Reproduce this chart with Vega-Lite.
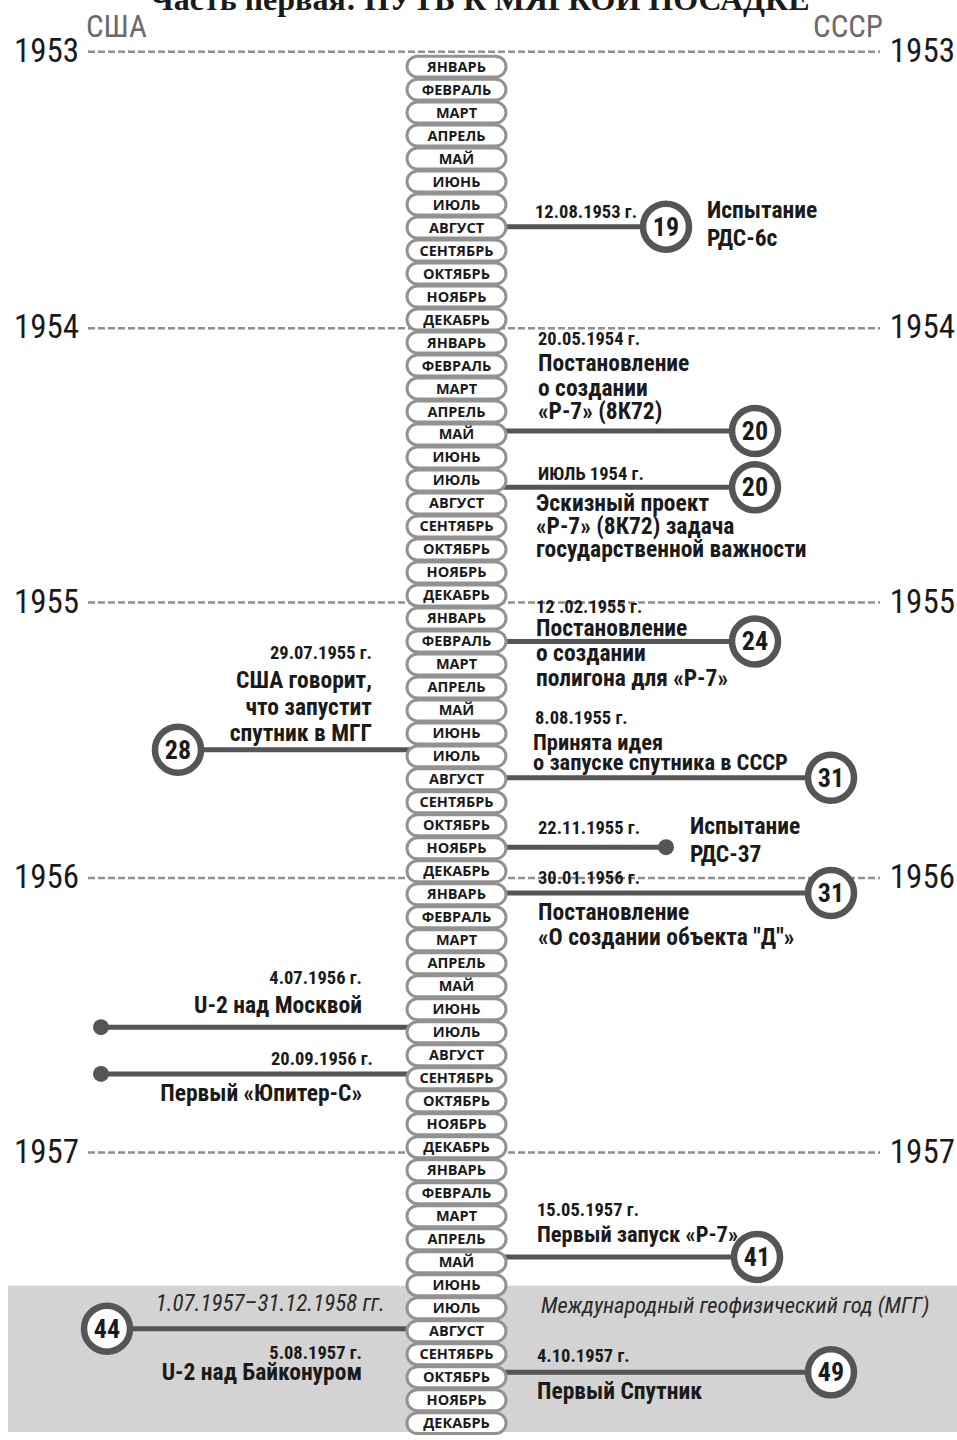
{
  "$schema": "https://vega.github.io/schema/vega-lite/v6.json",
  "width": 957,
  "height": 1440,
  "autosize": {"type": "fit", "contains": "padding"},
  "padding": 0,
  "background": "white",
  "config": {"view": {"stroke": null}},
  "datasets": {
    "months": [
      {"i": 0, "m": "ЯНВАРЬ"}, {"i": 1, "m": "ФЕВРАЛЬ"}, {"i": 2, "m": "МАРТ"}, {"i": 3, "m": "АПРЕЛЬ"}, {"i": 4, "m": "МАЙ"}, {"i": 5, "m": "ИЮНЬ"},
      {"i": 6, "m": "ИЮЛЬ"}, {"i": 7, "m": "АВГУСТ"}, {"i": 8, "m": "СЕНТЯБРЬ"}, {"i": 9, "m": "ОКТЯБРЬ"}, {"i": 10, "m": "НОЯБРЬ"}, {"i": 11, "m": "ДЕКАБРЬ"},
      {"i": 12, "m": "ЯНВАРЬ"}, {"i": 13, "m": "ФЕВРАЛЬ"}, {"i": 14, "m": "МАРТ"}, {"i": 15, "m": "АПРЕЛЬ"}, {"i": 16, "m": "МАЙ"}, {"i": 17, "m": "ИЮНЬ"},
      {"i": 18, "m": "ИЮЛЬ"}, {"i": 19, "m": "АВГУСТ"}, {"i": 20, "m": "СЕНТЯБРЬ"}, {"i": 21, "m": "ОКТЯБРЬ"}, {"i": 22, "m": "НОЯБРЬ"}, {"i": 23, "m": "ДЕКАБРЬ"},
      {"i": 24, "m": "ЯНВАРЬ"}, {"i": 25, "m": "ФЕВРАЛЬ"}, {"i": 26, "m": "МАРТ"}, {"i": 27, "m": "АПРЕЛЬ"}, {"i": 28, "m": "МАЙ"}, {"i": 29, "m": "ИЮНЬ"},
      {"i": 30, "m": "ИЮЛЬ"}, {"i": 31, "m": "АВГУСТ"}, {"i": 32, "m": "СЕНТЯБРЬ"}, {"i": 33, "m": "ОКТЯБРЬ"}, {"i": 34, "m": "НОЯБРЬ"}, {"i": 35, "m": "ДЕКАБРЬ"},
      {"i": 36, "m": "ЯНВАРЬ"}, {"i": 37, "m": "ФЕВРАЛЬ"}, {"i": 38, "m": "МАРТ"}, {"i": 39, "m": "АПРЕЛЬ"}, {"i": 40, "m": "МАЙ"}, {"i": 41, "m": "ИЮНЬ"},
      {"i": 42, "m": "ИЮЛЬ"}, {"i": 43, "m": "АВГУСТ"}, {"i": 44, "m": "СЕНТЯБРЬ"}, {"i": 45, "m": "ОКТЯБРЬ"}, {"i": 46, "m": "НОЯБРЬ"}, {"i": 47, "m": "ДЕКАБРЬ"},
      {"i": 48, "m": "ЯНВАРЬ"}, {"i": 49, "m": "ФЕВРАЛЬ"}, {"i": 50, "m": "МАРТ"}, {"i": 51, "m": "АПРЕЛЬ"}, {"i": 52, "m": "МАЙ"}, {"i": 53, "m": "ИЮНЬ"},
      {"i": 54, "m": "ИЮЛЬ"}, {"i": 55, "m": "АВГУСТ"}, {"i": 56, "m": "СЕНТЯБРЬ"}, {"i": 57, "m": "ОКТЯБРЬ"}, {"i": 58, "m": "НОЯБРЬ"}, {"i": 59, "m": "ДЕКАБРЬ"}
    ],
    "years": [
      {"year": "1953", "y": -0.65, "x0": 88, "x1": 880},
      {"year": "1954", "y": 11.38, "x0": 88, "x1": 880},
      {"year": "1955", "y": 23.31, "x0": 88, "x1": 880},
      {"year": "1956", "y": 35.29, "x0": 88, "x1": 880},
      {"year": "1957", "y": 47.23, "x0": 88, "x1": 880}
    ],
    "band": [{"from": 53.03, "to": 59.39, "x0": 8, "x1": 957}],
    "events": [
      {"y": 6.96, "x0": 456, "x1": 666, "end": "circle", "num": "19"},
      {"y": 15.85, "x0": 456, "x1": 755, "end": "circle", "num": "20"},
      {"y": 18.3, "x0": 456, "x1": 755, "end": "circle", "num": "20"},
      {"y": 25.0, "x0": 456, "x1": 755, "end": "circle", "num": "24"},
      {"y": 30.93, "x0": 456, "x1": 831, "end": "circle", "num": "31"},
      {"y": 33.95, "x0": 456, "x1": 666, "end": "dot", "num": ""},
      {"y": 35.94, "x0": 456, "x1": 831, "end": "circle", "num": "31"},
      {"y": 51.77, "x0": 456, "x1": 757, "end": "circle", "num": "41"},
      {"y": 56.79, "x0": 456, "x1": 831, "end": "circle", "num": "49"},
      {"y": 29.71, "x0": 456, "x1": 178, "end": "circle", "num": "28"},
      {"y": 41.78, "x0": 456, "x1": 101, "end": "dot", "num": ""},
      {"y": 43.81, "x0": 456, "x1": 101, "end": "dot", "num": ""},
      {"y": 54.89, "x0": 456, "x1": 107, "end": "circle", "num": "44"}
    ],
    "labels": [
      {"t": "12.08.1953 г.", "y": 6.31, "x": 535, "k": "dR"},
      {"t": "20.05.1954 г.", "y": 11.85, "x": 538, "k": "dR"},
      {"t": "ИЮЛЬ 1954 г.", "y": 17.73, "x": 538, "k": "dR"},
      {"t": "12 .02.1955 г.", "y": 23.49, "x": 536, "k": "dR"},
      {"t": "8.08.1955 г.", "y": 28.33, "x": 535, "k": "dR"},
      {"t": "22.11.1955 г.", "y": 33.13, "x": 538, "k": "dR"},
      {"t": "30.01.1956 г.", "y": 35.29, "x": 538, "k": "dR"},
      {"t": "15.05.1957 г.", "y": 49.74, "x": 537, "k": "dR"},
      {"t": "4.10.1957 г.", "y": 56.1, "x": 537, "k": "dR"},
      {"t": "Испытание", "y": 6.27, "x": 707, "k": "tR"},
      {"t": "РДС-6с", "y": 7.48, "x": 707, "k": "tR"},
      {"t": "Постановление", "y": 12.93, "x": 538, "k": "tR"},
      {"t": "о создании", "y": 14.01, "x": 538, "k": "tR"},
      {"t": "«Р-7» (8К72)", "y": 15.01, "x": 538, "k": "tR"},
      {"t": "Эскизный проект", "y": 19.03, "x": 536, "k": "tR"},
      {"t": "«Р-7» (8К72) задача", "y": 20.03, "x": 536, "k": "tR"},
      {"t": "государственной важности", "y": 21.02, "x": 536, "k": "tR"},
      {"t": "Постановление", "y": 24.44, "x": 536, "k": "tR"},
      {"t": "о создании", "y": 25.56, "x": 536, "k": "tR"},
      {"t": "полигона для «Р-7»", "y": 26.64, "x": 536, "k": "tR"},
      {"t": "Принята идея", "y": 29.42, "x": 533, "k": "tS"},
      {"t": "о запуске спутника в СССР", "y": 30.28, "x": 533, "k": "tS"},
      {"t": "Испытание", "y": 33.09, "x": 690, "k": "tR"},
      {"t": "РДС-37", "y": 34.3, "x": 690, "k": "tR"},
      {"t": "Постановление", "y": 36.81, "x": 538, "k": "tR"},
      {"t": "«О создании объекта \"Д\"»", "y": 37.89, "x": 538, "k": "tR"},
      {"t": "Первый запуск «Р-7»", "y": 50.82, "x": 537, "k": "tS"},
      {"t": "Первый Спутник", "y": 57.66, "x": 537, "k": "tR"},
      {"t": "29.07.1955 г.", "y": 25.52, "x": 372, "k": "dL"},
      {"t": "4.07.1956 г.", "y": 39.62, "x": 362, "k": "dL"},
      {"t": "20.09.1956 г.", "y": 43.17, "x": 373, "k": "dL"},
      {"t": "5.08.1957 г.", "y": 55.93, "x": 362, "k": "dL"},
      {"t": "США говорит,", "y": 26.73, "x": 372, "k": "tL"},
      {"t": "что запустит", "y": 27.9, "x": 372, "k": "tL"},
      {"t": "спутник в МГГ", "y": 29.02, "x": 372, "k": "tL"},
      {"t": "U-2 над Москвой", "y": 40.87, "x": 362, "k": "tL"},
      {"t": "Первый «Юпитер-С»", "y": 44.68, "x": 362, "k": "tL"},
      {"t": "U-2 над Байконуром", "y": 56.84, "x": 362, "k": "tL"},
      {"t": "1.07.1957–31.12.1958 гг.", "y": 53.81, "x": 385, "k": "iL"},
      {"t": "Международный геофизический год (МГГ)", "y": 53.89, "x": 541, "k": "iR"}
    ],
    "heads": [
      {"t": "США", "y": -1.69, "x": 86, "side": "L"},
      {"t": "СССР", "y": -1.69, "x": 883, "side": "R"}
    ],
    "headline": [{"t": "Часть первая: ПУТЬ К МЯГКОЙ ПОСАДКЕ", "y": -2.45, "x": 480}]
  },
  "layer": [
    {
      "data": {"name": "band"},
      "mark": {"type": "rect", "color": "#d3d3d3"},
      "encoding": {
        "x": {"field": "x0", "type": "quantitative", "scale": {"domain": [0, 957], "zero": false, "nice": false}, "axis": null},
        "x2": {"field": "x1"},
        "y": {"field": "from", "type": "quantitative", "scale": {"domain": [-2.898, 59.386], "reverse": true, "zero": false, "nice": false}, "axis": null},
        "y2": {"field": "to"}
      }
    },
    {
      "data": {"name": "years"},
      "mark": {"type": "rule", "color": "#8f8f8f", "strokeWidth": 2.5, "strokeDash": [7, 3]},
      "encoding": {
        "x": {"field": "x0", "type": "quantitative", "axis": null},
        "x2": {"field": "x1"},
        "y": {"field": "y", "type": "quantitative", "axis": null}
      }
    },
    {
      "data": {"name": "years"},
      "mark": {"type": "text", "align": "left", "baseline": "middle", "font": "'Roboto Condensed', 'Liberation Sans Narrow', 'DejaVu Sans Condensed', sans-serif", "fontSize": 33, "color": "#1a1a1a", "clip": true},
      "encoding": {
        "x": {"datum": 14, "type": "quantitative", "axis": null},
        "y": {"field": "y", "type": "quantitative", "axis": null},
        "text": {"field": "year", "type": "nominal"}
      }
    },
    {
      "data": {"name": "years"},
      "mark": {"type": "text", "align": "right", "baseline": "middle", "font": "'Roboto Condensed', 'Liberation Sans Narrow', 'DejaVu Sans Condensed', sans-serif", "fontSize": 33, "color": "#1a1a1a", "clip": true},
      "encoding": {
        "x": {"datum": 955, "type": "quantitative", "axis": null},
        "y": {"field": "y", "type": "quantitative", "axis": null},
        "text": {"field": "year", "type": "nominal"}
      }
    },
    {
      "data": {"name": "heads"},
      "transform": [{"filter": "datum.side === 'L'"}],
      "mark": {"type": "text", "align": "left", "baseline": "middle", "font": "'Roboto Condensed', 'Liberation Sans Narrow', 'DejaVu Sans Condensed', sans-serif", "fontSize": 31, "color": "#6a6a6a", "clip": true},
      "encoding": {
        "x": {"field": "x", "type": "quantitative", "axis": null},
        "y": {"field": "y", "type": "quantitative", "axis": null},
        "text": {"field": "t", "type": "nominal"}
      }
    },
    {
      "data": {"name": "heads"},
      "transform": [{"filter": "datum.side === 'R'"}],
      "mark": {"type": "text", "align": "right", "baseline": "middle", "font": "'Roboto Condensed', 'Liberation Sans Narrow', 'DejaVu Sans Condensed', sans-serif", "fontSize": 31, "color": "#6a6a6a", "clip": true},
      "encoding": {
        "x": {"field": "x", "type": "quantitative", "axis": null},
        "y": {"field": "y", "type": "quantitative", "axis": null},
        "text": {"field": "t", "type": "nominal"}
      }
    },
    {
      "data": {"name": "events"},
      "mark": {"type": "rule", "color": "#555555", "strokeWidth": 5},
      "encoding": {
        "x": {"field": "x0", "type": "quantitative", "axis": null},
        "x2": {"field": "x1"},
        "y": {"field": "y", "type": "quantitative", "axis": null}
      }
    },
    {
      "data": {"name": "months"},
      "mark": {"type": "point", "shape": "M -0.788 -0.212 L 0.788 -0.212 A 0.212 0.212 0 0 1 0.788 0.212 L -0.788 0.212 A 0.212 0.212 0 0 1 -0.788 -0.212 Z", "size": 9801, "filled": true, "fill": "white", "stroke": "#929292", "strokeWidth": 3, "opacity": 1},
      "encoding": {
        "x": {"datum": 456.5, "type": "quantitative", "axis": null},
        "y": {"field": "i", "type": "quantitative", "axis": null}
      }
    },
    {
      "data": {"name": "months"},
      "mark": {"type": "text", "align": "center", "baseline": "middle", "font": "'Open Sans', sans-serif", "fontWeight": "bold", "fontSize": 14.5, "color": "#1a1a1a", "dy": 1},
      "encoding": {
        "x": {"datum": 456.5, "type": "quantitative", "axis": null},
        "y": {"field": "i", "type": "quantitative", "axis": null},
        "text": {"field": "m", "type": "nominal"}
      }
    },
    {
      "data": {"name": "events"},
      "transform": [{"filter": "datum.end === 'circle'"}],
      "mark": {"type": "point", "shape": "circle", "filled": true, "fill": "white", "stroke": "#555555", "strokeWidth": 6.5, "size": 2116, "opacity": 1},
      "encoding": {
        "x": {"field": "x1", "type": "quantitative", "axis": null},
        "y": {"field": "y", "type": "quantitative", "axis": null}
      }
    },
    {
      "data": {"name": "events"},
      "transform": [{"filter": "datum.end === 'dot'"}],
      "mark": {"type": "point", "shape": "circle", "filled": true, "color": "#555555", "size": 256, "opacity": 1},
      "encoding": {
        "x": {"field": "x1", "type": "quantitative", "axis": null},
        "y": {"field": "y", "type": "quantitative", "axis": null}
      }
    },
    {
      "data": {"name": "events"},
      "transform": [{"filter": "datum.end === 'circle'"}],
      "mark": {"type": "text", "align": "center", "baseline": "middle", "font": "'Roboto Condensed', 'Liberation Sans Narrow', 'DejaVu Sans Condensed', sans-serif", "fontWeight": "bold", "fontSize": 26, "color": "#1a1a1a", "dy": 1},
      "encoding": {
        "x": {"field": "x1", "type": "quantitative", "axis": null},
        "y": {"field": "y", "type": "quantitative", "axis": null},
        "text": {"field": "num", "type": "nominal"}
      }
    },
    {
      "data": {"name": "labels"},
      "transform": [{"filter": "datum.k === 'dR'"}],
      "mark": {"type": "text", "align": "left", "baseline": "middle", "font": "'Roboto Condensed', 'Liberation Sans Narrow', 'DejaVu Sans Condensed', sans-serif", "fontWeight": "bold", "fontSize": 18.5, "color": "#1a1a1a", "clip": true},
      "encoding": {
        "x": {"field": "x", "type": "quantitative", "axis": null},
        "y": {"field": "y", "type": "quantitative", "axis": null},
        "text": {"field": "t", "type": "nominal"}
      }
    },
    {
      "data": {"name": "labels"},
      "transform": [{"filter": "datum.k === 'tR'"}],
      "mark": {"type": "text", "align": "left", "baseline": "middle", "font": "'Roboto Condensed', 'Liberation Sans Narrow', 'DejaVu Sans Condensed', sans-serif", "fontWeight": "bold", "fontSize": 23.5, "color": "#1a1a1a", "clip": true},
      "encoding": {
        "x": {"field": "x", "type": "quantitative", "axis": null},
        "y": {"field": "y", "type": "quantitative", "axis": null},
        "text": {"field": "t", "type": "nominal"}
      }
    },
    {
      "data": {"name": "labels"},
      "transform": [{"filter": "datum.k === 'tS'"}],
      "mark": {"type": "text", "align": "left", "baseline": "middle", "font": "'Roboto Condensed', 'Liberation Sans Narrow', 'DejaVu Sans Condensed', sans-serif", "fontWeight": "bold", "fontSize": 22.5, "color": "#1a1a1a", "clip": true},
      "encoding": {
        "x": {"field": "x", "type": "quantitative", "axis": null},
        "y": {"field": "y", "type": "quantitative", "axis": null},
        "text": {"field": "t", "type": "nominal"}
      }
    },
    {
      "data": {"name": "labels"},
      "transform": [{"filter": "datum.k === 'dL'"}],
      "mark": {"type": "text", "align": "right", "baseline": "middle", "font": "'Roboto Condensed', 'Liberation Sans Narrow', 'DejaVu Sans Condensed', sans-serif", "fontWeight": "bold", "fontSize": 18.5, "color": "#1a1a1a", "clip": true},
      "encoding": {
        "x": {"field": "x", "type": "quantitative", "axis": null},
        "y": {"field": "y", "type": "quantitative", "axis": null},
        "text": {"field": "t", "type": "nominal"}
      }
    },
    {
      "data": {"name": "labels"},
      "transform": [{"filter": "datum.k === 'tL'"}],
      "mark": {"type": "text", "align": "right", "baseline": "middle", "font": "'Roboto Condensed', 'Liberation Sans Narrow', 'DejaVu Sans Condensed', sans-serif", "fontWeight": "bold", "fontSize": 23.5, "color": "#1a1a1a", "clip": true},
      "encoding": {
        "x": {"field": "x", "type": "quantitative", "axis": null},
        "y": {"field": "y", "type": "quantitative", "axis": null},
        "text": {"field": "t", "type": "nominal"}
      }
    },
    {
      "data": {"name": "labels"},
      "transform": [{"filter": "datum.k === 'iL'"}],
      "mark": {"type": "text", "align": "right", "baseline": "middle", "font": "'Roboto Condensed', 'Liberation Sans Narrow', 'DejaVu Sans Condensed', sans-serif", "fontStyle": "italic", "fontSize": 23, "color": "#2a2a2a", "clip": true},
      "encoding": {
        "x": {"field": "x", "type": "quantitative", "axis": null},
        "y": {"field": "y", "type": "quantitative", "axis": null},
        "text": {"field": "t", "type": "nominal"}
      }
    },
    {
      "data": {"name": "labels"},
      "transform": [{"filter": "datum.k === 'iR'"}],
      "mark": {"type": "text", "align": "left", "baseline": "middle", "font": "'Roboto Condensed', 'Liberation Sans Narrow', 'DejaVu Sans Condensed', sans-serif", "fontStyle": "italic", "fontSize": 22.5, "color": "#2a2a2a", "clip": true},
      "encoding": {
        "x": {"field": "x", "type": "quantitative", "axis": null},
        "y": {"field": "y", "type": "quantitative", "axis": null},
        "text": {"field": "t", "type": "nominal"}
      }
    },
    {
      "data": {"name": "headline"},
      "mark": {"type": "text", "align": "center", "baseline": "alphabetic", "font": "'Liberation Serif', 'DejaVu Serif', serif", "fontWeight": "bold", "fontSize": 32, "color": "#1a1a1a", "clip": true},
      "encoding": {
        "x": {"field": "x", "type": "quantitative", "axis": null},
        "y": {"field": "y", "type": "quantitative", "axis": null},
        "text": {"field": "t", "type": "nominal"}
      }
    }
  ]
}
